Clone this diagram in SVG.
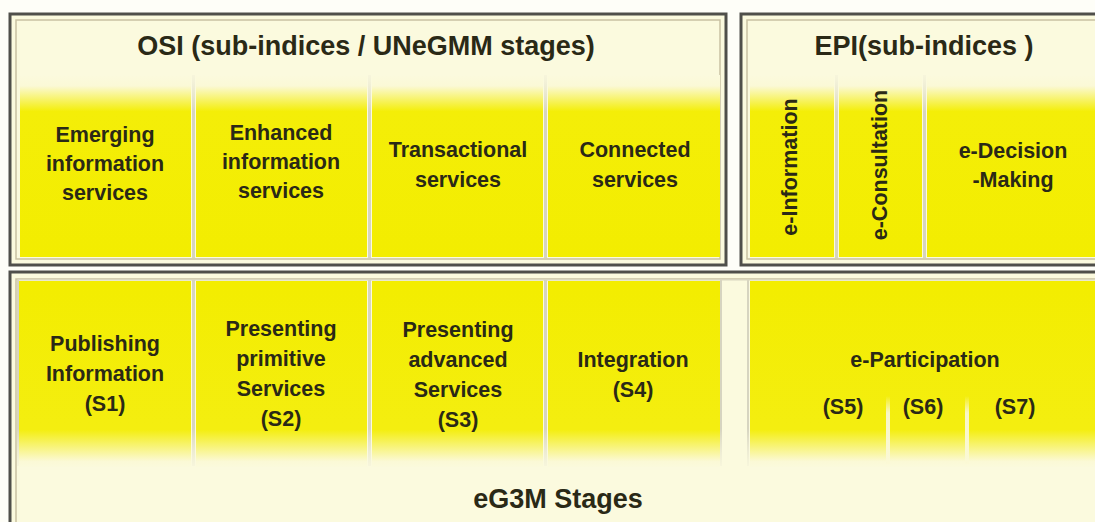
<svg xmlns="http://www.w3.org/2000/svg" width="1095" height="522" viewBox="0 0 1095 522">
<defs>
<linearGradient id="gTop" x1="0" y1="0" x2="0" y2="1">
<stop offset="0" stop-color="#fbfade"/>
<stop offset="0.06" stop-color="#fbf9d6"/>
<stop offset="0.2" stop-color="#f4ee08"/>
<stop offset="1" stop-color="#f3ed00"/>
</linearGradient>
<linearGradient id="gBot" x1="0" y1="0" x2="0" y2="1">
<stop offset="0" stop-color="#f3ed00"/>
<stop offset="0.8" stop-color="#f4ee10"/>
<stop offset="0.97" stop-color="#fbf9d6"/>
<stop offset="1" stop-color="#fbfadc"/>
</linearGradient>
<linearGradient id="gSepTop" x1="0" y1="0" x2="0" y2="1">
<stop offset="0" stop-color="#e6e4d0" stop-opacity="0.2"/>
<stop offset="0.2" stop-color="#d6d4c0"/>
<stop offset="1" stop-color="#d6d4c0"/>
</linearGradient>
<linearGradient id="gSepBot" x1="0" y1="0" x2="0" y2="1">
<stop offset="0" stop-color="#d6d4c0"/>
<stop offset="0.8" stop-color="#d6d4c0"/>
<stop offset="1" stop-color="#e6e4d0" stop-opacity="0.2"/>
</linearGradient>
<linearGradient id="gSub" x1="0" y1="0" x2="0" y2="1">
<stop offset="0" stop-color="#fbf9d6" stop-opacity="0"/>
<stop offset="0.25" stop-color="#f8f6c8"/>
<stop offset="1" stop-color="#fbf9d6"/>
</linearGradient>
</defs>
<style>
.frame{fill:#fbfade;stroke:#4f4f4a;stroke-width:3}
.inner{fill:none;stroke:#c9c1a2;stroke-width:1.5}
.ct{fill:url(#gTop)}
.cb{fill:url(#gBot)}
.t{font-family:"Liberation Sans",Arial,sans-serif;font-weight:bold;font-size:21.5px;fill:#2a2916;text-anchor:middle}
.h{font-size:27px}
</style>
<rect x="0" y="0" width="1095" height="522" fill="#fefef8"/>

<g id="osi">
<rect class="frame" x="10" y="14" width="716" height="251"/>
<rect class="inner" x="16" y="20" width="704" height="239"/>
<text class="t h" x="366" y="55">OSI (sub-indices / UNeGMM stages)</text>
</g>
<g id="epi">
<rect class="frame" x="741" y="14" width="380" height="251"/>
<rect class="inner" x="747" y="20" width="368" height="239"/>
<text class="t h" x="924" y="55">EPI(sub-indices )</text>
</g>
<g id="eg3m">
<rect class="frame" x="10" y="272" width="1120" height="280"/>
<rect class="inner" x="16" y="279" width="1108" height="268"/>
<text class="t h" x="558" y="508">eG3M Stages</text>
</g>

<g id="separators">
<rect x="192" y="75" width="3" height="183" fill="url(#gSepTop)"/>
<rect x="368" y="75" width="3" height="183" fill="url(#gSepTop)"/>
<rect x="544" y="75" width="3" height="183" fill="url(#gSepTop)"/>
<rect x="835" y="75" width="3" height="183" fill="url(#gSepTop)"/>
<rect x="923" y="75" width="3" height="183" fill="url(#gSepTop)"/>
<rect x="17" y="280" width="2" height="186" fill="url(#gSepBot)"/>
<rect x="192" y="280" width="3" height="186" fill="url(#gSepBot)"/>
<rect x="368" y="280" width="3" height="186" fill="url(#gSepBot)"/>
<rect x="544" y="280" width="3" height="186" fill="url(#gSepBot)"/>
<rect x="720" y="280" width="2" height="186" fill="url(#gSepBot)"/>
<rect x="747" y="280" width="2" height="186" fill="url(#gSepBot)"/>
<rect x="18" y="279" width="1080" height="1.5" fill="#d9d6bf"/>
</g>

<g id="osi-emerging">
<rect class="ct" x="20" y="75" width="171" height="182"/>
<text class="t" x="105"><tspan x="105" y="142">Emerging</tspan><tspan x="105" y="171">information</tspan><tspan x="105" y="200">services</tspan></text>
</g>
<g id="osi-enhanced">
<rect class="ct" x="196" y="75" width="171" height="182"/>
<text class="t"><tspan x="281" y="140">Enhanced</tspan><tspan x="281" y="169">information</tspan><tspan x="281" y="198">services</tspan></text>
</g>
<g id="osi-transactional">
<rect class="ct" x="372" y="75" width="171" height="182"/>
<text class="t"><tspan x="458" y="157">Transactional</tspan><tspan x="458" y="187">services</tspan></text>
</g>
<g id="osi-connected">
<rect class="ct" x="548" y="75" width="172" height="182"/>
<text class="t"><tspan x="635" y="157">Connected</tspan><tspan x="635" y="187">services</tspan></text>
</g>

<g id="epi-information">
<rect class="ct" x="750" y="75" width="84" height="182"/>
<text class="t" transform="translate(797 167) rotate(-90)" x="0" y="0">e-Information</text>
</g>
<g id="epi-consultation">
<rect class="ct" x="839" y="75" width="83" height="182"/>
<text class="t" transform="translate(887 165) rotate(-90)" x="0" y="0">e-Consultation</text>
</g>
<g id="epi-decision">
<rect class="ct" x="927" y="75" width="170" height="182"/>
<text class="t"><tspan x="1013" y="158">e-Decision</tspan><tspan x="1013" y="187">-Making</tspan></text>
</g>

<g id="s1">
<rect class="cb" x="19" y="281" width="172" height="186"/>
<text class="t"><tspan x="105" y="351">Publishing</tspan><tspan x="105" y="381">Information</tspan><tspan x="105" y="411">(S1)</tspan></text>
</g>
<g id="s2">
<rect class="cb" x="196" y="281" width="171" height="186"/>
<text class="t"><tspan x="281" y="336">Presenting</tspan><tspan x="281" y="366">primitive</tspan><tspan x="281" y="396">Services</tspan><tspan x="281" y="426">(S2)</tspan></text>
</g>
<g id="s3">
<rect class="cb" x="372" y="281" width="171" height="186"/>
<text class="t"><tspan x="458" y="337">Presenting</tspan><tspan x="458" y="367">advanced</tspan><tspan x="458" y="397">Services</tspan><tspan x="458" y="427">(S3)</tspan></text>
</g>
<g id="s4">
<rect class="cb" x="548" y="281" width="172" height="186"/>
<text class="t"><tspan x="633" y="367">Integration</tspan><tspan x="633" y="397">(S4)</tspan></text>
</g>
<g id="e-participation">
<rect class="cb" x="750" y="281" width="345" height="186"/>
<rect x="886" y="396" width="4" height="68" fill="url(#gSub)"/>
<rect x="965" y="396" width="4" height="68" fill="url(#gSub)"/>
<text class="t" x="925" y="367">e-Participation</text>
<text class="t" x="843" y="414">(S5)</text>
<text class="t" x="923" y="414">(S6)</text>
<text class="t" x="1015" y="414">(S7)</text>
</g>
</svg>
